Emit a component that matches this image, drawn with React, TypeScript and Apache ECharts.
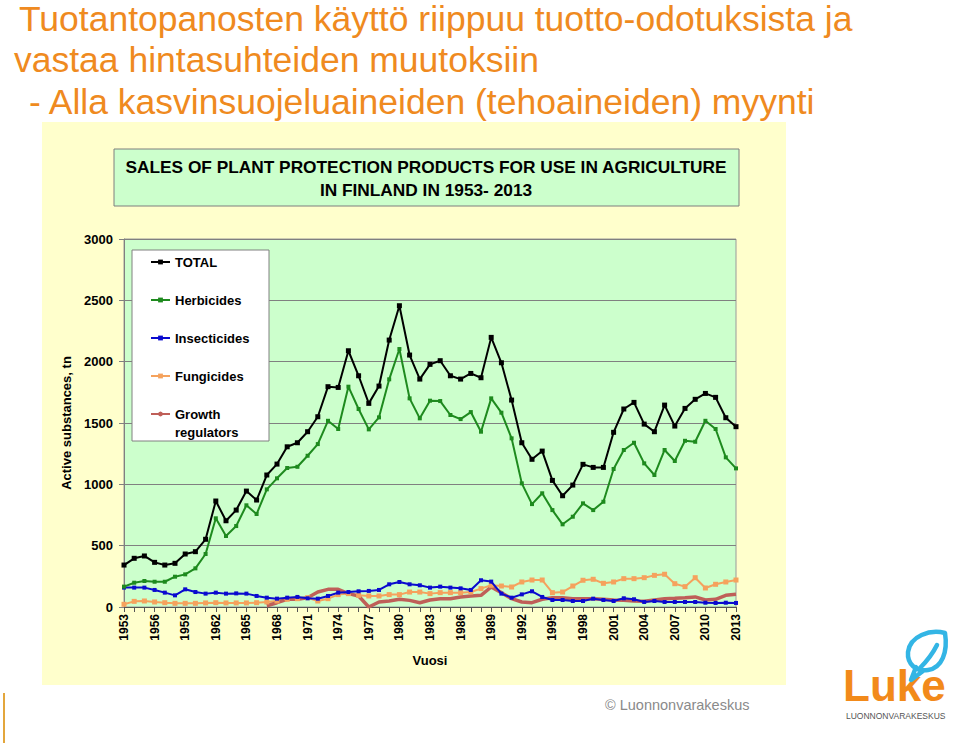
import React, { useEffect, useRef } from "react";
import * as echarts from "echarts";

const years = [
  "1953", "1954", "1955", "1956", "1957", "1958", "1959", "1960", "1961", "1962",
  "1963", "1964", "1965", "1966", "1967", "1968", "1969", "1970", "1971", "1972",
  "1973", "1974", "1975", "1976", "1977", "1978", "1979", "1980", "1981", "1982",
  "1983", "1984", "1985", "1986", "1987", "1988", "1989", "1990", "1991", "1992",
  "1993", "1994", "1995", "1996", "1997", "1998", "1999", "2000", "2001", "2002",
  "2003", "2004", "2005", "2006", "2007", "2008", "2009", "2010", "2011", "2012",
  "2013",
];

const total = [
  342, 397, 416, 364, 342, 356, 432, 451, 552, 864,
  703, 790, 945, 872, 1076, 1165, 1306, 1339, 1429, 1551,
  1796, 1790, 2089, 1885, 1660, 1801, 2176, 2456, 2054, 1858,
  1978, 2008, 1885, 1858, 1904, 1869, 2198, 1991, 1687, 1339,
  1204, 1271, 1032, 907, 994, 1163, 1138, 1138, 1424, 1614,
  1668, 1491, 1429, 1646, 1475, 1619, 1693, 1741, 1709, 1543,
  1470,
];

const herbicides = [
  166, 198, 212, 206, 206, 247, 266, 315, 432, 723,
  579, 660, 829, 758, 959, 1049, 1133, 1143, 1233, 1328,
  1518, 1451, 1796, 1614, 1448, 1546, 1856, 2103, 1701, 1538,
  1682, 1679, 1565, 1532, 1589, 1429, 1701, 1584, 1375, 1008,
  839, 927, 790, 674, 736, 845, 790, 858, 1125, 1280,
  1339, 1171, 1076, 1280, 1190, 1355, 1347, 1518, 1451, 1220,
  1130,
];

const insecticides = [
  158, 158, 158, 139, 117, 95, 144, 122, 109, 117,
  109, 111, 109, 90, 76, 68, 76, 82, 71, 68,
  90, 117, 122, 128, 131, 139, 185, 204, 185, 177,
  158, 166, 158, 152, 139, 218, 207, 109, 76, 103,
  128, 82, 57, 57, 49, 49, 68, 57, 49, 71,
  63, 41, 49, 41, 41, 41, 41, 35, 33, 35,
  33,
];

const fungicides = [
  22, 46, 49, 41, 35, 30, 30, 30, 33, 35,
  33, 33, 33, 35, 41, 49, 63, 68, 76, 49,
  68, 101, 109, 95, 90, 90, 101, 101, 122, 122,
  109, 117, 117, 117, 122, 150, 177, 171, 163, 204,
  220, 220, 117, 122, 171, 218, 226, 193, 204, 231,
  231, 239, 258, 267, 190, 166, 239, 155, 185, 204,
  220,
];

const growthRegulators = [
  null, null, null, null, null, null, null, null, null, null,
  null, null, null, null, 10, 35, 63, 63, 76, 122,
  144, 144, 109, 90, 0, 41, 49, 63, 54, 35,
  57, 68, 68, 82, 90, 95, 163, 117, 68, 41,
  35, 63, 76, 76, 68, 68, 68, 63, 57, 54,
  49, 46, 57, 68, 71, 76, 82, 57, 63, 95,
  103,
];

const yTicks = { min: 0, max: 3000, interval: 500 };

const slideTitle = [
  "Tuotantopanosten käyttö riippuu tuotto-odotuksista ja",
  "vastaa hintasuhteiden muutoksiin",
  "- Alla kasvinsuojeluaineiden (tehoaineiden) myynti",
];
const chartTitle =
  "SALES OF PLANT PROTECTION PRODUCTS FOR USE IN AGRICULTURE\nIN FINLAND IN 1953- 2013";

const FONT = "'Liberation Sans', Arial, Helvetica, sans-serif";

const leafPath =
  "M 945 633 C 930 629 910 636 908 652 C 907 664 916 672 928 670 C 942 668 948 652 945 633 Z " +
  "M 916 667 L 911 680 L 923 671 " +
  "M 937 645 C 932 655 926 662 920 668";

echarts.graphic.registerShape("lukeLeaf", echarts.graphic.extendPath(leafPath, {}));

const legendText = {
  fontFamily: FONT,
  fontWeight: "bold" as const,
  fontSize: 13,
  color: "#000",
  lineHeight: 14,
};

function buildOption() {
  return {
    animation: false,
    backgroundColor: "#ffffff",
    title: {
      text: chartTitle,
      left: 426,
      top: 155,
      padding: 0,
      textAlign: "center",
      textStyle: {
        fontFamily: FONT,
        fontWeight: "bold",
        fontSize: 17.3,
        lineHeight: 23,
        color: "#000",
      },
      z: 8,
    },
    legend: [
      {
        data: ["TOTAL", "Herbicides", "Insecticides", "Fungicides"],
        orient: "vertical",
        left: 150,
        top: 255,
        padding: 0,
        itemGap: 24,
        itemWidth: 19,
        itemHeight: 6,
        textStyle: legendText,
        z: 10,
      },
      {
        data: ["Growth regulators"],
        orient: "vertical",
        left: 150,
        top: 387,
        padding: 0,
        itemWidth: 19,
        itemHeight: 6,
        formatter: () => "\u00a0\nGrowth\nregulators",
        textStyle: { ...legendText, lineHeight: 18 },
        z: 10,
      },
    ],
    grid: {
      left: 124,
      top: 239,
      width: 612,
      height: 368,
      show: true,
      backgroundColor: "#CCFFCC",
      borderColor: "#9a9a9a",
      borderWidth: 1,
    },
    xAxis: {
      type: "category",
      data: years,
      boundaryGap: false,
      name: "Vuosi",
      nameLocation: "middle",
      nameGap: 47,
      nameTextStyle: { fontFamily: FONT, fontWeight: "bold", fontSize: 13, color: "#000" },
      axisLine: { lineStyle: { color: "#555", width: 1 } },
      axisTick: { show: true, interval: 0, inside: false, length: 5, lineStyle: { color: "#555" } },
      axisLabel: {
        interval: 2,
        rotate: 90,
        margin: 7,
        fontFamily: FONT,
        fontWeight: "bold",
        fontSize: 12,
        color: "#000",
      },
      splitLine: { show: false },
    },
    yAxis: {
      type: "value",
      min: yTicks.min,
      max: yTicks.max,
      interval: yTicks.interval,
      name: "Active substances, tn",
      nameLocation: "middle",
      nameGap: 41,
      nameTextStyle: { fontFamily: FONT, fontWeight: "bold", fontSize: 13, color: "#000" },
      axisLine: { show: true, lineStyle: { color: "#808080", width: 1 } },
      axisTick: { show: true, inside: false, length: 5, lineStyle: { color: "#808080" } },
      axisLabel: {
        margin: 11,
        formatter: (v: number) => String(v),
        fontFamily: FONT,
        fontWeight: "bold",
        fontSize: 13,
        color: "#000",
      },
      splitLine: { show: true, lineStyle: { color: "#808080", width: 1 } },
    },
    series: [
      {
        name: "TOTAL",
        type: "line",
        data: total,
        color: "#000000",
        symbol: "rect",
        symbolSize: 5,
        lineStyle: { width: 2, color: "#000000" },
        itemStyle: { color: "#000000" },
        z: 6,
      },
      {
        name: "Herbicides",
        type: "line",
        data: herbicides,
        color: "#1E8A1E",
        symbol: "rect",
        symbolSize: 4,
        lineStyle: { width: 2, color: "#1E8A1E" },
        itemStyle: { color: "#1E8A1E" },
        z: 5,
      },
      {
        name: "Insecticides",
        type: "line",
        data: insecticides,
        color: "#0A0ACF",
        symbol: "rect",
        symbolSize: 4,
        lineStyle: { width: 2, color: "#0A0ACF" },
        itemStyle: { color: "#0A0ACF" },
        z: 4,
      },
      {
        name: "Fungicides",
        type: "line",
        data: fungicides,
        color: "#F5A25D",
        symbol: "rect",
        symbolSize: 5,
        lineStyle: { width: 2, color: "#F5A25D" },
        itemStyle: { color: "#F5A25D" },
        z: 3,
      },
      {
        name: "Growth regulators",
        type: "line",
        data: growthRegulators,
        color: "#BF5F58",
        symbol: "none",
        connectNulls: false,
        lineStyle: { width: 3.5, color: "#BF5F58" },
        itemStyle: { color: "#BF5F58" },
        z: 3,
      },
    ],
    graphic: [
      {
        type: "rect",
        z: -10,
        silent: true,
        shape: { x: 42, y: 122, width: 744, height: 563 },
        style: { fill: "#FFFFCC" },
      },
      {
        type: "rect",
        z: 1,
        silent: true,
        shape: { x: 114, y: 149, width: 625, height: 57 },
        style: { fill: "#CCFFCC", stroke: "#7f7f7f", lineWidth: 1 },
      },
      {
        type: "rect",
        z: 7,
        silent: true,
        shape: { x: 132, y: 250, width: 137, height: 191 },
        style: { fill: "#ffffff", stroke: "#808080", lineWidth: 1 },
      },
      {
        type: "text",
        x: 19,
        y: 19,
        silent: true,
        style: {
          text: slideTitle[0],
          fill: "#EF8A20",
          font: `35.5px ${FONT}`,
          verticalAlign: "middle",
        },
      },
      {
        type: "text",
        x: 14,
        y: 60,
        silent: true,
        style: {
          text: slideTitle[1],
          fill: "#EF8A20",
          font: `35.5px ${FONT}`,
          verticalAlign: "middle",
        },
      },
      {
        type: "text",
        x: 29,
        y: 102,
        silent: true,
        style: {
          text: slideTitle[2],
          fill: "#EF8A20",
          font: `35.5px ${FONT}`,
          verticalAlign: "middle",
        },
      },
      {
        type: "text",
        x: 605,
        y: 705,
        silent: true,
        style: {
          text: "© Luonnonvarakeskus",
          fill: "#8a8a8a",
          font: `14.5px ${FONT}`,
          verticalAlign: "middle",
        },
      },
      {
        type: "text",
        x: 843,
        y: 685,
        silent: true,
        style: {
          text: "Luke",
          fill: "#F28A1A",
          font: `bold 44px ${FONT}`,
          verticalAlign: "middle",
        },
      },
      {
        type: "text",
        x: 846,
        y: 716,
        silent: true,
        style: {
          text: "LUONNONVARAKESKUS",
          fill: "#555555",
          font: `8.5px ${FONT}`,
          verticalAlign: "middle",
        },
      },
      {
        type: "lukeLeaf",
        x: 0,
        y: 0,
        silent: true,
        style: { fill: "none", stroke: "#33B5E5", lineWidth: 4.5, lineCap: "round", lineJoin: "round" },
      },
      {
        type: "line",
        silent: true,
        shape: { x1: 4, y1: 693, x2: 4, y2: 743 },
        style: { stroke: "#E3A63C", lineWidth: 2 },
      },
    ],
  };
}

export default function App() {
  const ref = useRef<HTMLDivElement>(null);
  useEffect(() => {
    document.body.style.margin = "0";
    if (!ref.current) return;
    const chart = echarts.init(ref.current, null, { renderer: "svg" });
    chart.setOption(buildOption() as any);
    return () => chart.dispose();
  }, []);
  return <div ref={ref} style={{ width: 960, height: 743 }} />;
}
